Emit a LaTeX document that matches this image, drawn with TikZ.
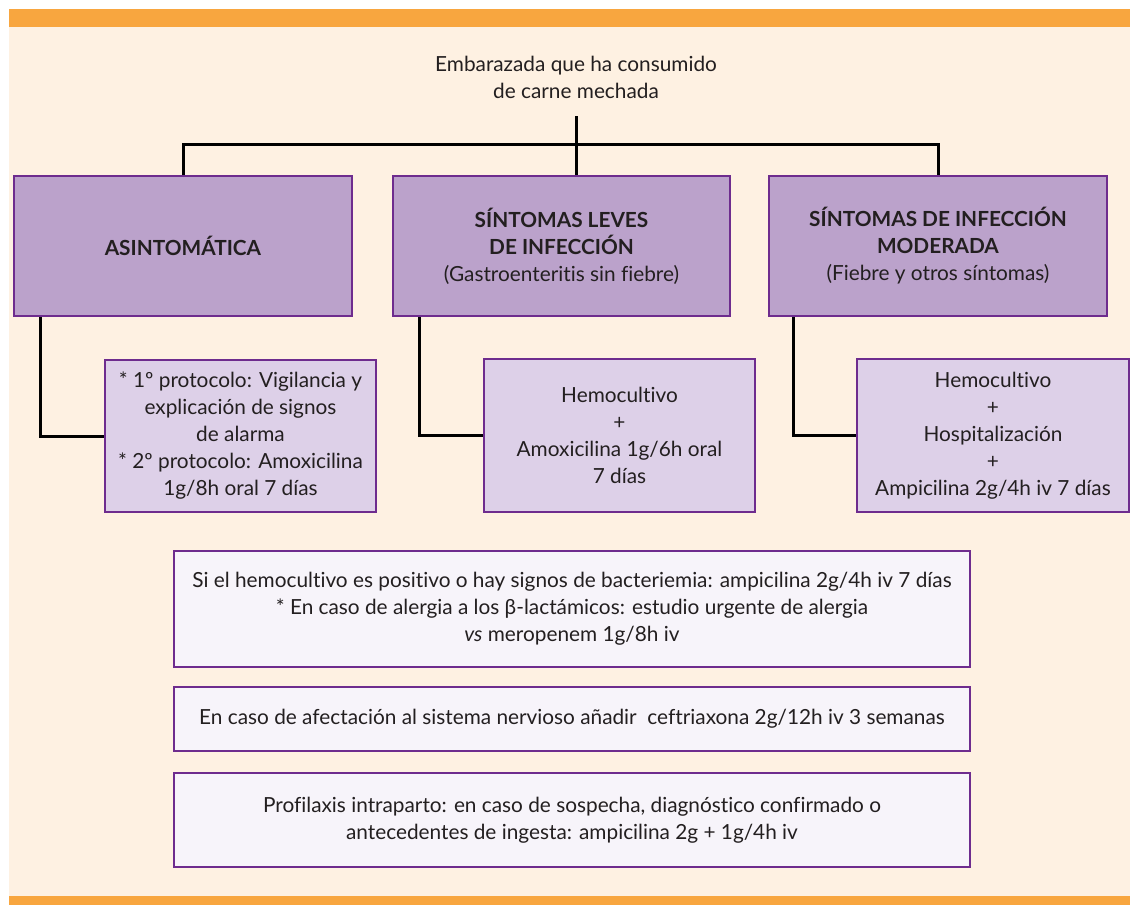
\documentclass[tikz,border=0pt]{standalone}
\usepackage{fontspec}
\setmainfont{Lato}[Ligatures={NoCommon,NoRequired}]
\definecolor{orangebar}{HTML}{F8A63F}
\definecolor{cream}{HTML}{FEF1E2}
\definecolor{purpleline}{HTML}{6E2C8E}
\definecolor{lvlone}{HTML}{BBA2CB}
\definecolor{lvltwo}{HTML}{DDD0E8}
\definecolor{lvlthree}{HTML}{F7F4FA}
\definecolor{txt}{HTML}{231F20}
\begin{document}
\begin{tikzpicture}[x=0.5pt,y=-0.5pt,
  font=\fontsize{10.4pt}{13.5pt}\selectfont,
  every node/.style={text=txt},
  boxbase/.style={draw=purpleline,line width=1.2pt,align=center,inner sep=0pt},
  topbox/.style={boxbase,fill=lvlone},
  midbox/.style={boxbase,fill=lvltwo},
  lowbox/.style={boxbase,fill=lvlthree,minimum width=398pt},
  link/.style={line width=1.5pt,black}]
\useasboundingbox (0,0) rectangle (1130,905);
\fill[white] (0,0) rectangle (1130,905);
\fill[cream] (9,9) rectangle (1130,905);
\fill[orangebar] (9,9) rectangle (1130,27);
\fill[orangebar] (9,896) rectangle (1130,905);

\node[align=center] (title) at (576,77) {Embarazada que ha consumido\\de carne mechada};
\coordinate (tstart) at (576,116);

\node[topbox,minimum width=169pt,minimum height=70pt] (b1) at (183,246) {\textbf{ASINTOMÁTICA}};
\node[topbox,minimum width=168.5pt,minimum height=70pt] (b2) at (561.5,246) {\textbf{SÍNTOMAS LEVES}\\\textbf{DE INFECCIÓN}\\(Gastroenteritis sin fiebre)};
\node[topbox,minimum width=169pt,minimum height=70pt] (b3) at (938,246) {\textbf{SÍNTOMAS DE INFECCIÓN}\\\textbf{MODERADA}\\(Fiebre y otros síntomas)};

\node[midbox,minimum width=135.5pt,minimum height=76pt] (b4) at (240.5,436) {* 1º protocolo: Vigilancia y\\explicación de signos\\de alarma\\* 2º protocolo: Amoxicilina\\1g/8h oral 7 días};
\node[midbox,minimum width=135.5pt,minimum height=76.5pt] (b5) at (619.5,435.5) {Hemocultivo\\+\\Amoxicilina 1g/6h oral\\7 días};
\node[midbox,minimum width=136pt,minimum height=76.5pt] (b6) at (993,435.5) {Hemocultivo\\+\\Hospitalización\\+\\Ampicilina 2g/4h iv 7 días};

\node[lowbox,minimum height=58pt] (b7) at (572,609) {Si el hemocultivo es positivo o hay signos de bacteriemia: ampicilina 2g/4h iv 7 días\\* En caso de alergia a los β-lactámicos: estudio urgente de alergia\\\textit{vs} meropenem 1g/8h iv};
\node[lowbox,minimum height=32pt] (b8) at (572,719) {En caso de afectación al sistema nervioso añadir\ \ ceftriaxona 2g/12h iv 3 semanas};
\node[lowbox,minimum height=47pt] (b9) at (572,820) {Profilaxis intraparto: en caso de sospecha, diagnóstico confirmado o\\antecedentes de ingesta: ampicilina 2g + 1g/4h iv};

\draw[link] (tstart) -- (tstart |- b2.north);
\draw[link] (b1.north) -- ++(0,-30) -| (b3.north);

\draw[link] ([xshift=14pt]b1.south west) |- (b4.west);
\draw[link] ([xshift=14pt]b2.south west) |- (b5.west);
\draw[link] ([xshift=13pt]b3.south west) |- (b6.west);
\end{tikzpicture}
\end{document}
